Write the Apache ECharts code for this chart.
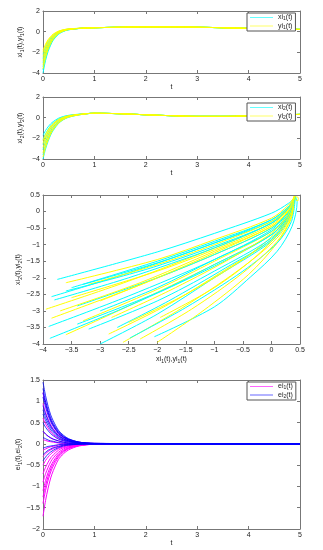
<!DOCTYPE html>
<html><head><meta charset="utf-8">
<script src="https://cdn.jsdelivr.net/npm/echarts@6/dist/echarts.min.js"></script>
<style>html,body{margin:0;padding:0;background:#fff}#c{width:323px;height:550px}</style>
</head><body><div id="c"></div>
<script>
// ---------- data ----------
const tHead = [0,0.05,0.1,0.15,0.2,0.3,0.4,0.5,0.7];
const tTail = [1,1.5,2,2.5,3,3.5,4,4.5,5];

// panel 1: xi1(t), yi1(t)
const xi1Heads = [
  [-4.0,-2.78,-1.91,-1.30,-0.82,-0.26,0.03,0.18,0.30],
  [-3.7,-2.57,-1.76,-1.19,-0.74,-0.22,0.05,0.19,0.31],
  [-3.4,-2.35,-1.60,-1.08,-0.66,-0.18,0.07,0.20,0.31],
  [-3.0,-2.06,-1.39,-0.92,-0.55,-0.12,0.10,0.22,0.31],
  [-2.6,-1.77,-1.18,-0.77,-0.45,-0.06,0.13,0.23,0.32],
  [-2.2,-1.49,-0.98,-0.62,-0.34,-0.01,0.16,0.25,0.32]
];
const yi1Heads = [
  [-3.6,-2.49,-1.70,-1.15,-0.72,-0.20,0.06,0.20,0.31],
  [-3.2,-2.21,-1.50,-1.00,-0.61,-0.15,0.09,0.21,0.31],
  [-2.8,-1.92,-1.29,-0.85,-0.50,-0.09,0.12,0.23,0.32],
  [-2.4,-1.63,-1.08,-0.70,-0.39,-0.04,0.15,0.24,0.32],
  [-2.0,-1.34,-0.87,-0.54,-0.28,0.02,0.18,0.26,0.32],
  [-1.8,-1.20,-0.77,-0.47,-0.23,0.05,0.19,0.27,0.33]
];
const tail1 = [0.38,0.43,0.46,0.46,0.43,0.38,0.32,0.26,0.22];

// panel 2: xi2(t), yi2(t)
const xi2Heads = [
  [-4.0,-3.03,-2.28,-1.67,-1.23,-0.57,-0.19,0.04,0.27],
  [-3.6,-2.72,-2.04,-1.48,-1.08,-0.48,-0.14,0.07,0.28],
  [-3.1,-2.33,-1.74,-1.25,-0.90,-0.37,-0.07,0.11,0.30],
  [-2.6,-1.94,-1.43,-1.01,-0.71,-0.26,0.00,0.15,0.31],
  [-2.1,-1.55,-1.13,-0.78,-0.53,-0.15,0.06,0.20,0.32],
  [-1.7,-1.24,-0.88,-0.59,-0.38,-0.06,0.12,0.23,0.34]
];
const yi2Heads = [
  [-3.8,-2.88,-2.16,-1.57,-1.15,-0.52,-0.17,0.06,0.27],
  [-3.4,-2.56,-1.92,-1.39,-1.01,-0.44,-0.11,0.09,0.29],
  [-2.9,-2.17,-1.61,-1.15,-0.82,-0.33,-0.05,0.13,0.30],
  [-2.5,-1.86,-1.37,-0.96,-0.67,-0.24,0.01,0.16,0.31],
  [-2.2,-1.63,-1.19,-0.82,-0.56,-0.17,0.05,0.19,0.32]
];
const tail2 = [0.43,0.38,0.28,0.19,0.13,0.13,0.17,0.24,0.32];

// panel 3: phase plane (xi1, xi2) cyan and (yi1, yi2) yellow
const phaseCyan = [
  [[-3.75,-2.05],[-2,-1.22],[-1,-0.66],[0,-0.05],[0.3,0.25],[0.42,0.45]],
  [[-3.85,-2.57],[-2.5,-1.85],[-1,-0.95],[0,-0.25],[0.3,0.15],[0.42,0.45]],
  [[-3.8,-2.67],[-2.5,-2.0],[-1,-1.1],[0,-0.35],[0.3,0.1],[0.42,0.45]],
  [[-3.9,-3.47],[-2.5,-2.55],[-1,-1.45],[0,-0.55],[0.3,0.0],[0.42,0.45]],
  [[-3.88,-3.83],[-2.5,-2.85],[-1,-1.65],[0,-0.7],[0.3,-0.1],[0.42,0.45]],
  [[-3.0,-4.0],[-2,-3.1],[-1,-2.0],[0,-0.9],[0.3,-0.25],[0.42,0.45]],
  [[-2.05,-3.78],[-1,-2.88],[-0.37,-1.98],[0.1,-1.2],[0.36,-0.45],[0.45,0.3],[0.42,0.45]],
  [[-2.48,-3.82],[-1.5,-2.9],[-0.5,-1.8],[0.1,-0.95],[0.35,-0.3],[0.42,0.45]],
  [[-3.5,-2.3],[-2,-1.5],[-1,-0.9],[0,-0.25],[0.3,0.15],[0.42,0.45]],
  [[-3.3,-2.2],[-2,-1.55],[-1,-0.95],[0,-0.3],[0.3,0.12],[0.42,0.45]],
  [[-3.4,-2.85],[-2,-2.0],[-1,-1.3],[0,-0.5],[0.3,0.0],[0.42,0.45]],
  [[-3.4,-3.4],[-2,-2.45],[-1,-1.6],[0,-0.7],[0.3,-0.1],[0.42,0.45]],
  [[-3.0,-3.0],[-2,-2.3],[-1,-1.45],[0,-0.6],[0.3,-0.05],[0.42,0.45]],
  [[-2.7,-3.5],[-1.8,-2.7],[-0.8,-1.7],[0,-0.85],[0.3,-0.2],[0.42,0.45]],
  [[-3.6,-2.4],[-2.2,-1.75],[-1,-1.05],[0,-0.35],[0.3,0.1],[0.42,0.45]],
  [[-3.2,-3.55],[-2,-2.7],[-1,-1.8],[0,-0.8],[0.3,-0.15],[0.42,0.45]]
];
const phaseYellow = [
  [[-3.95,-2.95],[-2.5,-2.1],[-1,-1.1],[0,-0.35],[0.3,0.1],[0.4,0.45]],
  [[-3.85,-3.22],[-2.5,-2.35],[-1,-1.3],[0,-0.5],[0.3,0.0],[0.4,0.45]],
  [[-3.6,-3.72],[-2.5,-2.85],[-1,-1.6],[0,-0.7],[0.3,-0.1],[0.4,0.45]],
  [[-3.6,-2.15],[-2,-1.45],[-1,-0.85],[0,-0.2],[0.3,0.2],[0.4,0.45]],
  [[-2.85,-3.7],[-1.8,-2.8],[-0.8,-1.75],[0,-0.85],[0.3,-0.2],[0.4,0.45]],
  [[-2.6,-3.95],[-1.6,-2.95],[-0.6,-1.8],[0.1,-0.8],[0.35,-0.1],[0.4,0.45]],
  [[-2.0,-3.95],[-1.2,-3.0],[-0.4,-1.9],[0.1,-0.95],[0.35,-0.2],[0.4,0.45]],
  [[-2.3,-3.85],[-1.4,-2.95],[-0.5,-1.85],[0.1,-0.9],[0.35,-0.15],[0.4,0.45]],
  [[-3.3,-3.3],[-2,-2.35],[-1,-1.5],[0,-0.6],[0.3,-0.05],[0.4,0.45]],
  [[-3.5,-2.6],[-2,-1.8],[-1,-1.15],[0,-0.4],[0.3,0.08],[0.4,0.45]],
  [[-3.0,-2.7],[-2,-2.0],[-1,-1.25],[0,-0.45],[0.3,0.02],[0.4,0.45]],
  [[-3.2,-2.2],[-2,-1.6],[-1,-1.0],[0,-0.3],[0.3,0.12],[0.4,0.45]],
  [[-2.8,-3.2],[-1.8,-2.4],[-0.8,-1.5],[0,-0.65],[0.3,-0.08],[0.4,0.45]],
  [[-2.5,-3.35],[-1.5,-2.5],[-0.5,-1.45],[0.1,-0.6],[0.35,0.0],[0.4,0.45]],
  [[-3.7,-3.0],[-2.3,-2.15],[-1,-1.2],[0,-0.45],[0.3,0.05],[0.4,0.45]],
  [[-1.95,-3.2],[-1,-2.3],[-0.3,-1.4],[0.15,-0.6],[0.35,0.0],[0.4,0.45]],
  [[0.4,0.45],[0.47,0.42],[0.46,0.32],[0.42,0.36],[0.4,0.45]]
];

// panel 4: errors ei1(t), ei2(t)
const tErr = [0,0.05,0.1,0.15,0.2,0.3,0.4,0.5,0.7,1,5];
const ei1 = [
  [1.2,0.94,0.73,0.56,0.44,0.26,0.16,0.1,0.04,0.01,0],
  [0.95,0.74,0.58,0.45,0.35,0.21,0.13,0.08,0.03,0.01,0],
  [0.6,0.47,0.37,0.28,0.22,0.13,0.08,0.05,0.02,0,0],
  [0.3,0.23,0.18,0.14,0.11,0.07,0.04,0.02,0.01,0,0],
  [0.1,0.08,0.06,0.05,0.04,0.02,0.01,0.01,0,0,0],
  [-0.15,-0.12,-0.09,-0.07,-0.06,-0.03,-0.02,-0.01,0,0,0],
  [-0.3,-0.23,-0.18,-0.14,-0.11,-0.07,-0.04,-0.02,-0.01,0,0],
  [-0.5,-0.39,-0.31,-0.24,-0.19,-0.11,-0.07,-0.04,-0.02,0,0],
  [-0.7,-0.55,-0.43,-0.33,-0.26,-0.15,-0.09,-0.06,-0.02,0,0],
  [-0.9,-0.7,-0.55,-0.42,-0.33,-0.2,-0.12,-0.07,-0.03,-0.01,0],
  [-1.1,-0.86,-0.67,-0.52,-0.41,-0.24,-0.15,-0.09,-0.03,-0.01,0],
  [-1.25,-0.98,-0.76,-0.59,-0.46,-0.28,-0.17,-0.1,-0.04,-0.01,0],
  [-1.4,-1.09,-0.85,-0.66,-0.52,-0.31,-0.19,-0.11,-0.04,-0.01,0],
  [-1.7,-1.33,-1.04,-0.8,-0.63,-0.37,-0.23,-0.14,-0.05,-0.01,0]
];
const ei2 = [
  [1.45,1.13,0.88,0.68,0.54,0.32,0.2,0.12,0.04,0.01,0],
  [1.3,1.01,0.79,0.61,0.48,0.29,0.18,0.11,0.04,0.01,0],
  [1.2,0.94,0.73,0.56,0.44,0.26,0.16,0.1,0.04,0.01,0],
  [1.1,0.86,0.67,0.52,0.41,0.24,0.15,0.09,0.03,0.01,0],
  [0.9,0.7,0.55,0.42,0.33,0.2,0.12,0.07,0.03,0.01,0],
  [0.8,0.62,0.49,0.38,0.3,0.18,0.11,0.07,0.02,0.01,0],
  [0.7,0.55,0.43,0.33,0.26,0.15,0.09,0.06,0.02,0,0],
  [0.5,0.39,0.31,0.24,0.19,0.11,0.07,0.04,0.02,0,0],
  [0.3,0.23,0.18,0.14,0.11,0.07,0.04,0.02,0.01,0,0],
  [0.15,0.12,0.09,0.07,0.06,0.03,0.02,0.01,0,0,0],
  [-0.1,-0.08,-0.06,-0.05,-0.04,-0.02,-0.01,-0.01,0,0,0],
  [-0.25,-0.2,-0.15,-0.12,-0.09,-0.06,-0.03,-0.02,-0.01,0,0],
  [-0.4,-0.31,-0.24,-0.19,-0.15,-0.09,-0.05,-0.03,-0.01,0,0]
];

// ---------- chart ----------
const FONT = 'Liberation Sans, Arial, sans-serif';
const CYAN = '#00ffff', YELLOW = '#ffff00', MAGENTA = '#ff00ff', BLUE = '#0000ff';
const rich = {
  a: {fontSize: 7, fontFamily: FONT, color: '#222'},
  s: {fontSize: 5, fontFamily: FONT, color: '#222', padding: [4,0,0,0]}
};
const minus = v => String(v).replace('-', '\u2212');

const grids = [
  {left: 43, right: 23, top: 11, height: 62},
  {left: 43, right: 23, top: 97, height: 62},
  {left: 43, right: 23, top: 195, height: 149},
  {left: 43, right: 23, top: 380, height: 149}
];
const xRanges = [[0,5,1],[0,5,1],[-4,0.5,0.5],[0,5,1]];
const yRanges = [[-4,2,2],[-4,2,2],[-4,0.5,0.5],[-2,1.5,0.5]];
const xNames = ['{a|t}', '{a|t}', '{a|xi}{s|1}{a|(t),yi}{s|1}{a|(t)}', '{a|t}'];
const yNames = ['{a|xi}{s|1}{a|(t),yi}{s|1}{a|(t)}', '{a|xi}{s|2}{a|(t),yi}{s|2}{a|(t)}',
                '{a|xi}{s|2}{a|(t),yi}{s|2}{a|(t)}', '{a|ei}{s|1}{a|(t),ei}{s|2}{a|(t)}'];
const yGaps = [18, 18, 20, 20];

const axLine = {show: true, onZero: false, lineStyle: {color: '#777', width: 1}};
const axTick = {show: true, inside: true, length: 3, lineStyle: {color: '#777'}};
const xAxis = [], yAxis = [];
for (let i = 0; i < 4; i++) {
  const [xmin, xmax, xint] = xRanges[i], [ymin, ymax, yint] = yRanges[i];
  xAxis.push({type: 'value', gridIndex: i, min: xmin, max: xmax, interval: xint, position: 'bottom',
    axisLine: axLine, axisTick: axTick, splitLine: {show: false},
    axisLabel: {fontSize: 7, fontFamily: FONT, color: '#222', margin: 3, formatter: minus},
    name: xNames[i], nameLocation: 'middle', nameGap: 11, nameMoveOverlap: false, nameTextStyle: {rich}});
  yAxis.push({type: 'value', gridIndex: i, min: ymin, max: ymax, interval: yint, position: 'left',
    axisLine: axLine, axisTick: axTick, splitLine: {show: false},
    axisLabel: {fontSize: 7, fontFamily: FONT, color: '#222', margin: 3, formatter: minus},
    name: yNames[i], nameLocation: 'middle', nameGap: yGaps[i], nameRotate: 90, nameMoveOverlap: false,
    nameTextStyle: {rich}});
}
for (let i = 0; i < 4; i++) {
  const [xmin, xmax, xint] = xRanges[i], [ymin, ymax, yint] = yRanges[i];
  xAxis.push({type: 'value', gridIndex: i, min: xmin, max: xmax, interval: xint, position: 'top',
    axisLine: axLine, axisTick: axTick, axisLabel: {show: false}, splitLine: {show: false}});
  yAxis.push({type: 'value', gridIndex: i, min: ymin, max: ymax, interval: yint, position: 'right',
    axisLine: axLine, axisTick: axTick, axisLabel: {show: false}, splitLine: {show: false}});
}

const series = [];
function addLine(name, color, data, gi, smooth, width) {
  series.push({type: 'line', name, xAxisIndex: gi, yAxisIndex: gi, data,
    symbol: 'none', showSymbol: false, smooth: smooth || false, animation: false, silent: true,
    lineStyle: {color, width: width || 1}, itemStyle: {color}});
}
const tFull = tHead.concat(tTail);
const zipT = (ts, vals) => ts.map((t, k) => [t, vals[k]]);
xi1Heads.forEach(h => addLine('xi1', CYAN, zipT(tFull, h.concat(tail1)), 0, 0.3));
yi1Heads.forEach(h => addLine('yi1', YELLOW, zipT(tFull, h.concat(tail1)), 0, 0.3));
xi2Heads.forEach(h => addLine('xi2', CYAN, zipT(tFull, h.concat(tail2)), 1, 0.3));
yi2Heads.forEach(h => addLine('yi2', YELLOW, zipT(tFull, h.concat(tail2)), 1, 0.3));
for (let k = 0; k < Math.max(phaseCyan.length, phaseYellow.length); k++) {
  if (phaseCyan[k]) addLine('pc', CYAN, phaseCyan[k], 2, 0.3);
  if (phaseYellow[k]) addLine('py', YELLOW, phaseYellow[k], 2, 0.3);
}
ei1.forEach(v => addLine('ei1', MAGENTA, zipT(tErr, v), 3, 0.3));
ei2.forEach(v => addLine('ei2', BLUE, zipT(tErr, v), 3, 0.3, 0.8));

const legendRich = {
  a: {fontSize: 7, fontFamily: FONT, color: '#222', lineHeight: 9},
  s: {fontSize: 5, fontFamily: FONT, color: '#222', padding: [3,0,0,0]}
};
function legend(names, top) {
  return {data: names, left: 247, top, orient: 'vertical', icon: 'rect', itemWidth: 23, itemHeight: 1,
    itemGap: 1, padding: [1, 3, 1, 3], borderColor: '#555', borderWidth: 1, backgroundColor: '#fff',
    selectedMode: false, z: 10,
    formatter: n => '{a|' + n.slice(0, 2) + '}{s|' + n.slice(2) + '}{a|(t)}',
    textStyle: {rich: legendRich}, itemStyle: {opacity: 0.6}};
}

const chart = echarts.init(document.getElementById('c'), null, {renderer: 'canvas'});
chart.setOption({
  animation: false,
  backgroundColor: '#fff',
  grid: grids,
  xAxis, yAxis, series,
  legend: [legend(['xi1', 'yi1'], 13), legend(['xi2', 'yi2'], 103), legend(['ei1', 'ei2'], 382)]
});
</script></body></html>
